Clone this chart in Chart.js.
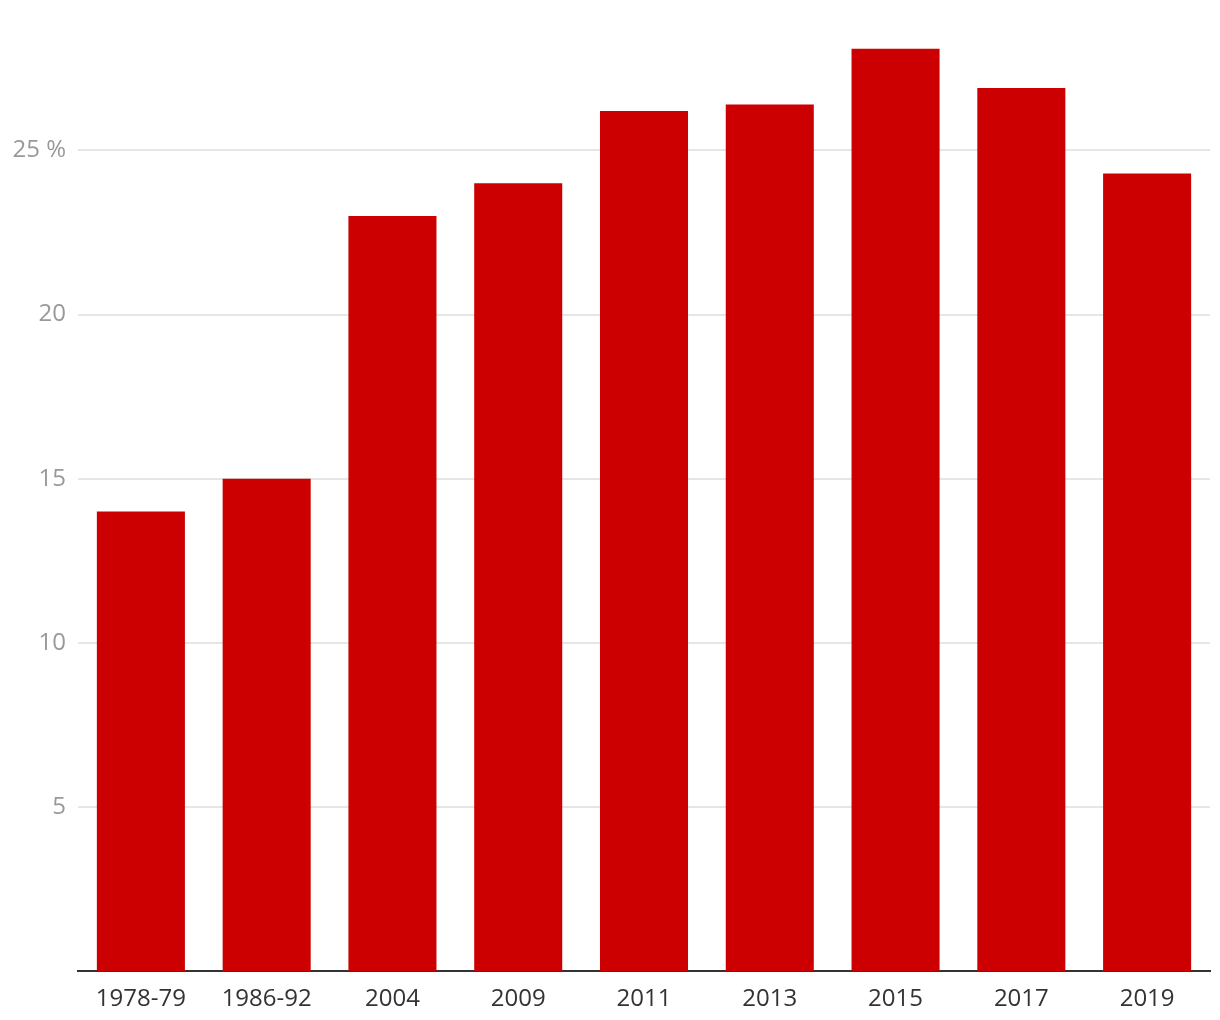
<!DOCTYPE html>
<html>
<head>
<meta charset="utf-8">
<script src="https://cdn.jsdelivr.net/npm/chart.js@4/dist/chart.umd.min.js"></script>
<style>
  html, body { margin: 0; padding: 0; background: #fff; }
  #wrap { width: 1220px; height: 1020px; }
</style>
</head>
<body>
<div id="wrap"><canvas id="chart" width="1220" height="1020"></canvas></div>
<script>
const years = ["1978-79", "1986-92", "2004", "2009", "2011", "2013", "2015", "2017", "2019"];
const shares = [14, 15, 23, 24, 26.2, 26.4, 28.1, 26.9, 24.3];
const yTicks = [5, 10, 15, 20, 25];

const ctx = document.getElementById("chart").getContext("2d");

new Chart(ctx, {
  type: "bar",
  data: {
    labels: years,
    datasets: [{
      data: shares,
      backgroundColor: "#cc0000",
      barPercentage: 0.7,
      categoryPercentage: 1
    }]
  },
  options: {
    responsive: false,
    animation: false,
    layout: { padding: { top: 2, right: 10, left: 0, bottom: 0 } },
    plugins: { legend: { display: false }, tooltip: { enabled: false } },
    scales: {
      x: {
        grid: { display: false, drawTicks: false },
        border: { display: true, color: "#333", width: 2 },
        ticks: {
          color: "#333",
          padding: 14,
          font: { family: "Open Sans", size: 24 },
          maxRotation: 0
        },
        afterFit: (scale) => { scale.height = 49; }
      },
      y: {
        min: 0,
        max: 28.78,
        afterBuildTicks: (scale) => {
          scale.ticks = yTicks.map(v => ({ value: v }));
        },
        grid: { color: "#e6e6e6", lineWidth: 2, drawTicks: false },
        border: { display: false },
        ticks: {
          color: "#999",
          padding: 12,
          font: { family: "Open Sans", size: 24 },
          callback: (v) => v === 25 ? "25 %" : String(v)
        },
        afterFit: (scale) => { scale.width = 78; }
      }
    }
  }
});
</script>
</body>
</html>
